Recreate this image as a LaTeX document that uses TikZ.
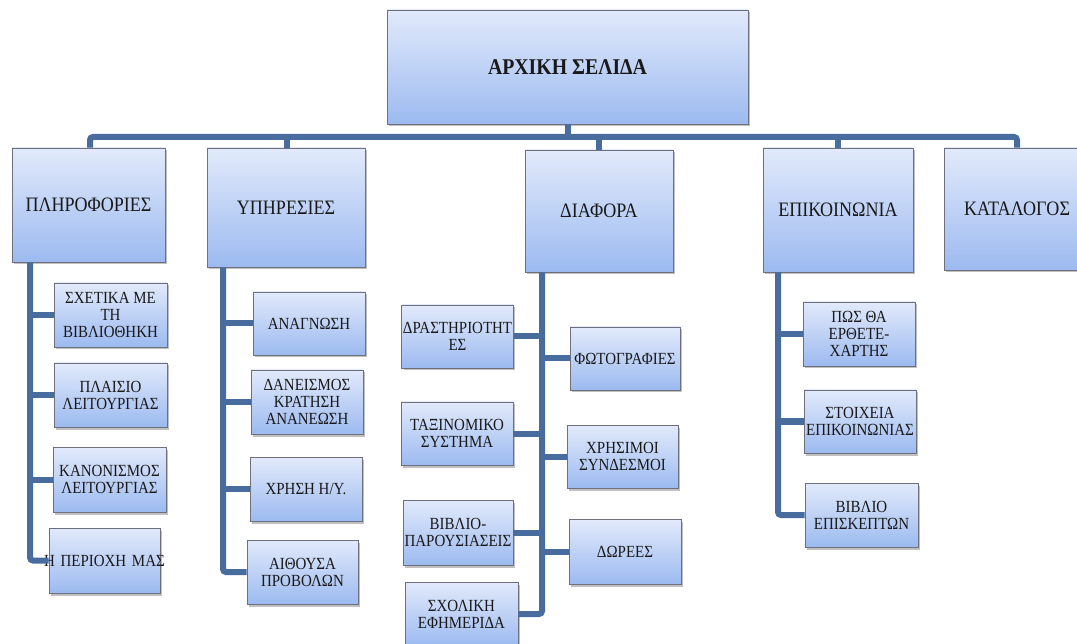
\documentclass[tikz,border=0pt]{standalone}
\usepackage{fontspec}
\setmainfont{Liberation Serif}[FakeStretch=0.88]
\usetikzlibrary{shadows}
\definecolor{boxtop}{RGB}{226,234,251}
\definecolor{boxbot}{RGB}{156,186,240}
\definecolor{boxline}{RGB}{110,112,125}
\definecolor{conncol}{RGB}{72,108,158}
\tikzset{
  box/.style={draw=boxline, line width=0.8pt, top color=boxtop, bottom color=boxbot,
    align=center, inner sep=1pt, text=black!90,
    drop shadow={shadow xshift=2pt, shadow yshift=-2.5pt, opacity=0.35, fill=black!70}},
  topbox/.style={box, font=\fontsize{20.5}{22}\selectfont},
  subbox/.style={box, font=\fontsize{17}{17}\selectfont},
  homebox/.style={box, font=\bfseries\fontsize{22.5}{24}\selectfont},
  conn/.style={draw=conncol, line width=6pt, rounded corners=3pt}
}
\begin{document}
\begin{tikzpicture}[x=1pt,y=-1pt]
\useasboundingbox (0,0) rectangle (1077,644);
\fill[white] (0,0) rectangle (1077,644);

% coordinates for the trunk lines
\coordinate (bus) at (90,137);
\coordinate (infoV) at (30,0);
\coordinate (svcV) at (223,0);
\coordinate (miscV) at (542,0);
\coordinate (contV) at (778,0);
\coordinate (infoN) at (90,148);
\coordinate (svcN) at (287,148);
\coordinate (catN) at (1017,148);

% main boxes
\node[homebox, minimum width=361, minimum height=114] (home) at (567.5,67) {ΑΡΧΙΚΗ ΣΕΛΙΔΑ};
\node[topbox, minimum width=153, minimum height=114] (info) at (88.5,205) {ΠΛΗΡΟΦΟΡΙΕΣ};
\node[topbox, minimum width=158, minimum height=119] (svc) at (286,207.5) {ΥΠΗΡΕΣΙΕΣ};
\node[topbox, minimum width=148, minimum height=122] (misc) at (599,211) {ΔΙΑΦΟΡΑ};
\node[topbox, minimum width=150, minimum height=124] (cont) at (838,210) {ΕΠΙΚΟΙΝΩΝΙΑ};
\node[topbox, minimum width=146, minimum height=122] (cat) at (1017,209) {ΚΑΤΑΛΟΓΟΣ};

% info children
\node[subbox, minimum width=113, minimum height=64] (i1) at (110.5,315) {ΣΧΕΤΙΚΑ ΜΕ\\ΤΗ\\ΒΙΒΛΙΟΘΗΚΗ};
\node[subbox, minimum width=113, minimum height=64] (i2) at (110.5,395) {ΠΛΑΙΣΙΟ\\ΛΕΙΤΟΥΡΓΙΑΣ};
\node[subbox, minimum width=113, minimum height=65] (i3) at (109.5,479.5) {ΚΑΝΟΝΙΣΜΟΣ\\ΛΕΙΤΟΥΡΓΙΑΣ};
\node[subbox, minimum width=111, minimum height=65, text width=111, inner sep=0pt] (i4) at (104.5,560.5) {\hspace*{-10pt}Η ΠΕΡΙΟΧΗ ΜΑΣ\hspace*{-10pt}};

% service children
\node[subbox, minimum width=112, minimum height=63] (s1) at (309,323.5) {ΑΝΑΓΝΩΣΗ};
\node[subbox, minimum width=112, minimum height=64] (s2) at (307,402) {ΔΑΝΕΙΣΜΟΣ\\ΚΡΑΤΗΣΗ\\ΑΝΑΝΕΩΣΗ};
\node[subbox, minimum width=112, minimum height=64] (s3) at (306,489) {ΧΡΗΣΗ Η/Υ.};
\node[subbox, minimum width=111, minimum height=64] (s4) at (302.5,572) {ΑΙΘΟΥΣΑ\\ΠΡΟΒΟΛΩΝ};

% misc children, left
\node[subbox, minimum width=111, minimum height=63] (m1) at (457.5,336.5) {ΔΡΑΣΤΗΡΙΟΤΗΤ\\ΕΣ};
\node[subbox, minimum width=112, minimum height=63] (m2) at (457,433.5) {ΤΑΞΙΝΟΜΙΚΟ\\ΣΥΣΤΗΜΑ};
\node[subbox, minimum width=110, minimum height=65] (m3) at (458,532.5) {ΒΙΒΛΙΟ-\\ΠΑΡΟΥΣΙΑΣΕΙΣ};
\node[subbox, minimum width=113, minimum height=64] (m4) at (461.5,614) {ΣΧΟΛΙΚΗ\\ΕΦΗΜΕΡΙΔΑ};
% misc children, right
\node[subbox, minimum width=110, minimum height=63] (r1) at (625,358.5) {ΦΩΤΟΓΡΑΦΙΕΣ};
\node[subbox, minimum width=111, minimum height=63] (r2) at (622.5,456.5) {ΧΡΗΣΙΜΟΙ\\ΣΥΝΔΕΣΜΟΙ};
\node[subbox, minimum width=112, minimum height=65] (r3) at (625,551.5) {ΔΩΡΕΕΣ};

% contact children
\node[subbox, minimum width=112, minimum height=64] (k1) at (859,334) {ΠΩΣ ΘΑ\\ΕΡΘΕΤΕ-\\ΧΑΡΤΗΣ};
\node[subbox, minimum width=112, minimum height=63] (k2) at (860,421.5) {ΣΤΟΙΧΕΙΑ\\ΕΠΙΚΟΙΝΩΝΙΑΣ};
\node[subbox, minimum width=113, minimum height=64] (k3) at (861.5,515) {ΒΙΒΛΙΟ\\ΕΠΙΣΚΕΠΤΩΝ};

% ---- connectors ----
% bus
\draw[conn] (info.north -| infoN) -- (infoN |- bus) -- (catN |- bus) -- (cat.north -| catN);
\draw[conn] (home.south) -- (home.south |- bus);
\draw[conn] (svc.north -| svcN) -- (svcN |- bus);
\draw[conn] (misc.north) -- (misc.north |- bus);
\draw[conn] (cont.north) -- (cont.north |- bus);

% info trunk
\draw[conn] (info.south -| infoV) -- (infoV |- i4.west) -- (i4.west);
\draw[conn] (infoV |- i1.west) -- (i1.west);
\draw[conn] (infoV |- i2.west) -- (i2.west);
\draw[conn] (infoV |- i3.west) -- (i3.west);

% services trunk
\draw[conn] (svc.south -| svcV) -- (svcV |- s4.west) -- (s4.west);
\draw[conn] (svcV |- s1.west) -- (s1.west);
\draw[conn] (svcV |- s2.west) -- (s2.west);
\draw[conn] (svcV |- s3.west) -- (s3.west);

% misc trunk
\draw[conn] (misc.south -| miscV) -- (miscV |- m4.east) -- (m4.east);
\draw[conn] (miscV |- m1.east) -- (m1.east);
\draw[conn] (miscV |- m2.east) -- (m2.east);
\draw[conn] (miscV |- m3.east) -- (m3.east);
\draw[conn] (miscV |- r1.west) -- (r1.west);
\draw[conn] (miscV |- r2.west) -- (r2.west);
\draw[conn] (miscV |- r3.west) -- (r3.west);

% contact trunk
\draw[conn] (cont.south -| contV) -- (contV |- k3.west) -- (k3.west);
\draw[conn] (contV |- k1.west) -- (k1.west);
\draw[conn] (contV |- k2.west) -- (k2.west);
\end{tikzpicture}
\end{document}
